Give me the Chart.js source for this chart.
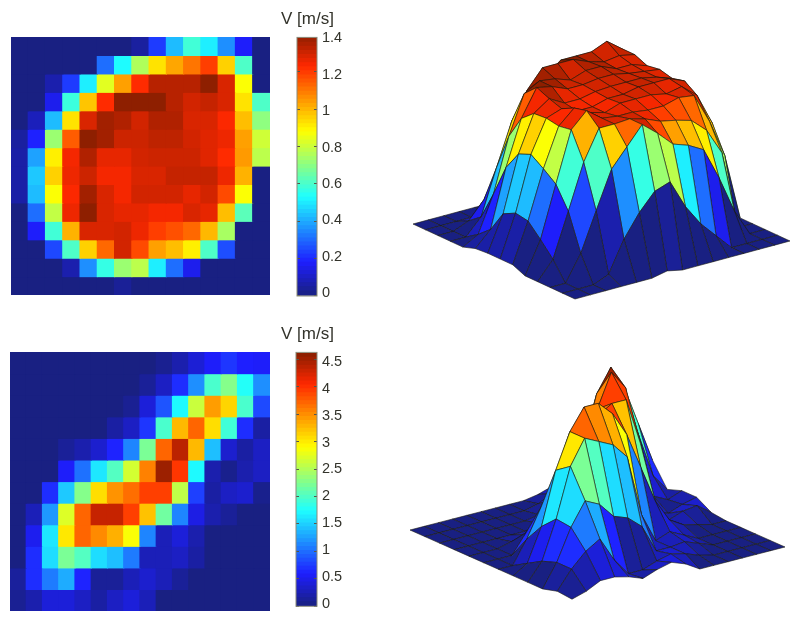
<!DOCTYPE html>
<html>
<head>
<meta charset="utf-8">
<title>V [m/s]</title>
<script src="https://cdn.jsdelivr.net/npm/chart.js@4"></script>
<style>
  body { margin: 0; background: #fff; }
  canvas { position: absolute; }
  canvas.soft { filter: blur(.5px); }
</style>
</head>
<body>
<script>
// velocity maps, row 0 is the top row of the map
const velocityTop = [
  [0,0,0,0,0,0,0,.04,.22,.42,.58,.5,.35,.17,0],
  [0,0,0,0,0,.3,.52,.75,.92,1.02,1.1,1.19,.95,.6,0],
  [0,0,.06,.22,.5,.83,1.03,1.22,1.33,1.33,1.33,1.39,1.28,.87,0],
  [0,0,.15,.57,.97,1.22,1.39,1.39,1.39,1.33,1.29,1.31,1.28,.92,.6],
  [0,.08,.42,.92,1.28,1.36,1.34,1.29,1.34,1.34,1.28,1.28,1.23,.98,.7],
  [.04,.18,.72,1.14,1.39,1.36,1.3,1.3,1.32,1.32,1.29,1.27,1.25,1.03,.8],
  [.05,.38,.9,1.24,1.34,1.26,1.26,1.29,1.3,1.3,1.3,1.27,1.22,1.04,.77],
  [.05,.44,.95,1.25,1.3,1.24,1.24,1.28,1.28,1.31,1.31,1.31,1.25,1,0],
  [.05,.42,.87,1.23,1.36,1.28,1.24,1.29,1.29,1.29,1.26,1.29,1.17,.87,0],
  [0,.3,.78,1.25,1.39,1.28,1.26,1.26,1.24,1.24,1.28,1.26,.98,.62,0],
  [0,.17,.58,1,1.28,1.28,1.29,1.25,1.19,1.16,1.12,.99,.74,0,0],
  [0,0,.24,.6,.95,1.12,1.29,1.17,1.03,.98,.9,.6,.25,0,0],
  [0,0,0,.06,.35,.56,.72,.77,.5,.3,.15,0,0,0,0],
  [0,0,0,0,0,0,.03,0,0,0,0,0,0,0,0]
];
const velocityBottom = [
  [0,0,0,0,0,0,0,0,0,.07,.2,.38,.55,.7,.58,.55],
  [0,0,0,0,0,0,0,0,.1,.3,.65,1.15,1.95,2.25,1.75,1.15],
  [0,0,0,0,0,0,0,.08,.4,.85,1.7,2.6,3.4,3.1,1.95,.8],
  [0,0,0,0,0,0,.15,.3,.7,1.95,3.25,3.7,3.05,1.9,.65,.15],
  [0,0,0,.1,.2,.35,.6,1.1,2.2,3.7,4.35,3.25,1.4,.35,.15,.3],
  [0,0,0,.55,1,1.6,2,2.65,3.55,4.5,3.95,1.7,.2,.05,.2,.3],
  [0,0,.65,1.45,2.25,3.05,3.45,3.65,3.9,3.9,2.55,.75,.15,.3,.35,.05],
  [0,.25,1.2,2.7,3.7,4.3,4.3,3.9,3.2,2.15,1.1,.45,.2,.1,0,0],
  [0,.5,1.6,3,3.7,3.5,3.3,2.85,1.1,.25,.4,.2,0,0,0,0],
  [0,.65,1.55,2.2,2,1.55,1.4,1.05,.25,.25,.3,.15,0,0,0,0],
  [.12,.65,1.05,1.3,.6,.1,.1,.25,.35,.25,.1,0,0,0,0,0],
  [.08,.2,.4,.4,.3,.15,.3,.4,.25,0,0,0,0,0,0,0]
];
const colorMaxTop = 1.4;
const colorMaxBottom = 4.6;
const ticksTop = [0, .2, .4, .6, .8, 1, 1.2, 1.4];
const ticksBottom = [0, .5, 1, 1.5, 2, 2.5, 3, 3.5, 4, 4.5];
const labelsTop = ['0', '0.2', '0.4', '0.6', '0.8', '1', '1.2', '1.4'];
const labelsBottom = ['0', '0.5', '1', '1.5', '2', '2.5', '3', '3.5', '4', '4.5'];
const barTitle = 'V [m/s]';

const textColor = '#33332b';
const fontFamily = '"Liberation Sans", Arial, sans-serif';
const jetStops = [
  [0, 25, 32, 130], [.125, 30, 30, 255], [.375, 30, 255, 255],
  [.625, 255, 255, 0], [.875, 255, 40, 0], [1, 135, 30, 0]
];

const jet = (t) => {
  t = Math.min(1, Math.max(0, t));
  let i = 0;
  while (i < jetStops.length - 2 && t > jetStops[i + 1][0]) i++;
  const a = jetStops[i], b = jetStops[i + 1];
  const k = (t - a[0]) / (b[0] - a[0]);
  const c = [1, 2, 3].map((n) => Math.round(a[n] + (b[n] - a[n]) * k));
  return `rgb(${c[0]},${c[1]},${c[2]})`;
};

const addCanvas = (left, top, width, height, soft) => {
  const canvas = document.createElement('canvas');
  canvas.width = width;
  canvas.height = height;
  canvas.style.left = left + 'px';
  canvas.style.top = top + 'px';
  canvas.style.width = width + 'px';
  canvas.style.height = height + 'px';
  if (soft) canvas.className = 'soft';
  document.body.appendChild(canvas);
  return canvas.getContext('2d');
};

// heat map: one floating bar per cell
const heatMap = (ctx, rows, colorMax) => {
  const nRows = rows.length;
  new Chart(ctx, {
    type: 'bar',
    data: {
      labels: rows[0].map((v, i) => i),
      datasets: rows.map((row, r) => ({
        data: row.map(() => [r, r + 1]),
        backgroundColor: row.map((v) => jet(v / colorMax)),
        borderWidth: 0,
        inflateAmount: .6,
        grouped: false,
        categoryPercentage: 1,
        barPercentage: 1
      }))
    },
    options: {
      responsive: false,
      animation: false,
      layout: { padding: 0 },
      plugins: { legend: { display: false }, tooltip: { enabled: false } },
      scales: {
        x: { display: false },
        y: { display: false, reverse: true, min: 0, max: nRows }
      }
    }
  });
};

// short ticks inside both sides of the colour bar, and its frame
const barFrame = {
  id: 'barFrame',
  afterDatasetsDraw(chart) {
    const { ctx, chartArea: a, scales } = chart;
    ctx.save();
    ctx.strokeStyle = '#55554a';
    ctx.lineWidth = 1;
    scales.y.ticks.filter((t) => t.value <= scales.y.max).forEach((t) => {
      const y = Math.round(scales.y.getPixelForValue(t.value)) + .5;
      ctx.beginPath();
      ctx.moveTo(a.left, y); ctx.lineTo(a.left + 3, y);
      ctx.moveTo(a.right - 3, y); ctx.lineTo(a.right, y);
      ctx.stroke();
    });
    ctx.strokeStyle = '#8a8a78';
    ctx.strokeRect(a.left, a.top, a.right - a.left, a.bottom - a.top);
    ctx.restore();
  }
};

// ticks and printed labels sit on slightly different spacings in the figure, so two axes
const colorBar = (ctx, opt) => {
  const levels = Array.from({ length: 64 }, (v, i) => i);
  const step = opt.colorMax / 64;
  new Chart(ctx, {
    type: 'bar',
    data: {
      labels: ['V'],
      datasets: levels.map((i) => ({
        data: [[i * step, (i + 1) * step]],
        backgroundColor: jet((i + .5) / 64),
        borderWidth: 0,
        inflateAmount: .6,
        grouped: false,
        categoryPercentage: 1,
        barPercentage: 1,
        yAxisID: 'y'
      }))
    },
    options: {
      responsive: false,
      animation: false,
      layout: { padding: { bottom: opt.padBottom } },
      plugins: {
        legend: { display: false },
        tooltip: { enabled: false },
        title: {
          display: true,
          text: barTitle,
          align: 'start',
          color: textColor,
          font: { family: fontFamily, size: 17, weight: 'normal' },
          padding: { top: opt.titleTop, bottom: opt.titleBottom }
        }
      },
      scales: {
        x: { display: false },
        y: {
          position: 'left',
          min: opt.tickMin,
          max: opt.tickMax,
          ticks: { display: false },
          grid: { display: false },
          border: { display: false },
          afterBuildTicks: (axis) => { axis.ticks = opt.ticks.map((v) => ({ value: v })); },
          afterFit: (axis) => { axis.width = opt.barLeft; }
        },
        yLabel: {
          position: 'right',
          min: opt.labelMin,
          max: opt.labelMax,
          grid: { display: false, drawTicks: false },
          border: { display: false },
          afterBuildTicks: (axis) => { axis.ticks = opt.ticks.map((v) => ({ value: v })); },
          afterFit: (axis) => { axis.width = opt.labelWidth; },
          ticks: {
            autoSkip: false,
            padding: 5,
            color: textColor,
            font: { family: fontFamily, size: 14.5 },
            callback: (v) => opt.labels[opt.ticks.indexOf(v)]
          }
        }
      }
    },
    plugins: [barFrame]
  });
};

// oblique projection of the grid: corners of the base in the chart's own units, z scale in units per m/s
const surface = (ctx, rows, colorMax, view) => {
  const nR = rows.length, nC = rows[0].length;
  const project = (r, c) => {
    const a = (nR - 1 - r) / (nR - 1);
    const b = c / (nC - 1);
    return {
      x: view.front[0] + (view.left[0] - view.front[0]) * a + (view.right[0] - view.front[0]) * b,
      y: view.front[1] + (view.left[1] - view.front[1]) * a + (view.right[1] - view.front[1]) * b - rows[r][c] * view.zScale
    };
  };
  const faces = [];
  for (let r = 0; r < nR - 1; r++) {
    for (let c = 0; c < nC - 1; c++) {
      faces.push({ r, c, depth: r - c });
    }
  }
  // dataset 0 is painted last, so the front faces come first
  faces.sort((p, q) => q.depth - p.depth);
  new Chart(ctx, {
    type: 'scatter',
    data: {
      datasets: faces.map(({ r, c }) => ({
        data: [project(r, c), project(r, c + 1), project(r + 1, c + 1), project(r + 1, c), project(r, c)],
        showLine: true,
        fill: 'shape',
        tension: 0,
        pointRadius: 0,
        // each face takes the colour of its corner nearest the viewer
        backgroundColor: jet(rows[r + 1][c] / colorMax),
        borderColor: 'rgba(25,25,15,0.85)',
        borderWidth: .7
      }))
    },
    options: {
      responsive: false,
      animation: false,
      layout: { padding: 0 },
      plugins: { legend: { display: false }, tooltip: { enabled: false } },
      scales: {
        x: { type: 'linear', display: false, min: 0, max: ctx.canvas.width },
        y: { type: 'linear', display: false, reverse: true, min: 0, max: ctx.canvas.height }
      }
    }
  });
};

heatMap(addCanvas(11, 37, 259, 258, true), velocityTop, colorMaxTop);
heatMap(addCanvas(10, 352, 260, 259, true), velocityBottom, colorMaxBottom);

colorBar(addCanvas(281, 0, 70, 310), {
  colorMax: colorMaxTop, ticks: ticksTop, labels: labelsTop, barLeft: 16, labelWidth: 34,
  titleTop: 9, titleBottom: 8, padBottom: 14,
  tickMin: -.005, tickMax: 1.383, labelMin: -.0165, labelMax: 1.4055
});
colorBar(addCanvas(281, 315, 70, 305), {
  colorMax: colorMaxBottom, ticks: ticksBottom, labels: labelsBottom, barLeft: 15, labelWidth: 34,
  titleTop: 9, titleBottom: 8, padBottom: 10,
  tickMin: -.01, tickMax: 4.62, labelMin: -.0495, labelMax: 4.678
});

surface(addCanvas(400, 30, 400, 280, true), velocityTop, colorMaxTop,
  { front: [175, 269], left: [13, 194], right: [390, 211], zScale: 107 });
surface(addCanvas(400, 360, 400, 260, true), velocityBottom, colorMaxBottom,
  { front: [172, 242], left: [10, 170], right: [385, 187], zScale: 35 });
</script>
</body>
</html>
